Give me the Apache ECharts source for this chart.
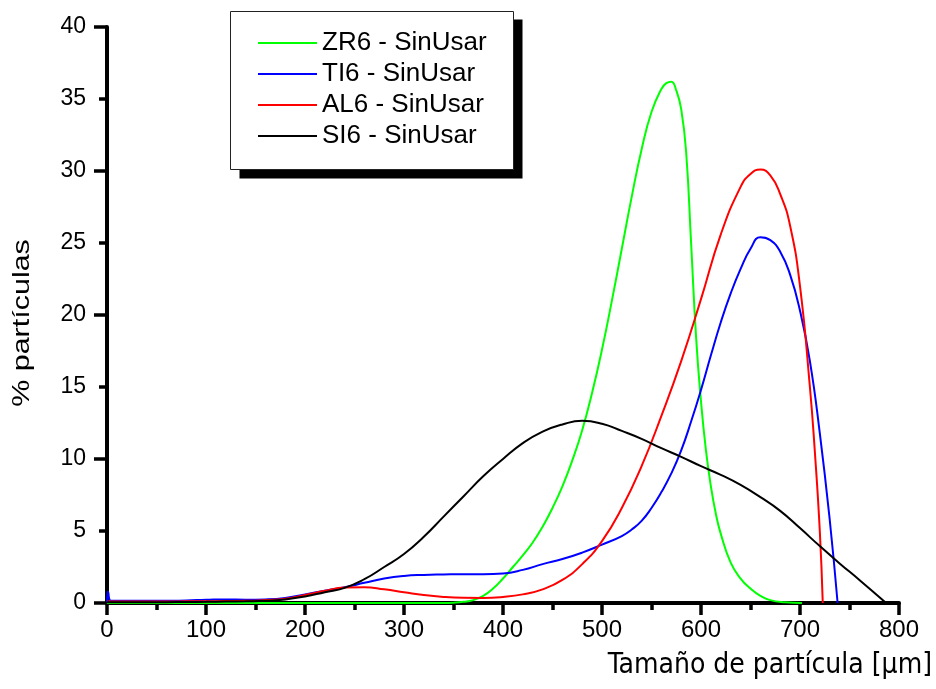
<!DOCTYPE html>
<html>
<head>
<meta charset="utf-8">
<script src="https://cdn.jsdelivr.net/npm/echarts@6/dist/echarts.min.js"></script>
<style>
  html, body { margin: 0; padding: 0; background: #fff; }
  #chart { width: 936px; height: 689px; }
</style>
</head>
<body>
<div id="chart"></div>
<script>
// Particle size distributions (% of particles vs size in µm)
const seriesNames = ['ZR6 - SinUsar', 'TI6 - SinUsar', 'AL6 - SinUsar', 'SI6 - SinUsar'];
const seriesColors = ['#00ff00', '#0000ff', '#ff0000', '#000000'];

const zr6X = [0, 50, 100, 150, 200, 250, 300, 340, 350, 360, 370, 380, 390, 400, 410, 420, 430, 440, 450, 460, 470, 480, 490, 500, 510, 520, 530, 540, 550, 560, 565, 570, 575, 580, 585, 590, 595, 600, 605, 610, 615, 620, 630, 640, 650, 660, 670, 685, 702];
const zr6Y = [0, 0, 0, 0, 0, 0, 0, 0, 0.02, 0.08, 0.2, 0.5, 1.0, 1.7, 2.5, 3.3, 4.2, 5.3, 6.6, 8.1, 9.9, 12.0, 14.6, 17.6, 21.0, 24.6, 28.2, 31.5, 34.1, 35.7, 36.1, 36.2, 35.6, 34.3, 31.3, 25.0, 18.5, 14.0, 10.6, 8.1, 6.2, 4.8, 2.8, 1.7, 1.0, 0.5, 0.2, 0.05, 0];

const ti6X = [0, 1, 4, 20, 40, 60, 80, 100, 120, 140, 160, 180, 200, 220, 240, 260, 280, 300, 320, 340, 360, 380, 400, 420, 440, 460, 480, 500, 520, 530, 540, 550, 560, 570, 580, 590, 600, 610, 620, 630, 640, 650, 660, 670, 680, 690, 700, 710, 720, 730, 738];
const ti6Y = [0.05, 0.8, 0.15, 0.15, 0.15, 0.16, 0.18, 0.22, 0.25, 0.23, 0.25, 0.35, 0.6, 0.85, 1.1, 1.4, 1.7, 1.88, 1.95, 1.98, 2.0, 2.0, 2.05, 2.3, 2.7, 3.05, 3.5, 4.05, 4.65, 5.1, 5.7, 6.6, 7.7, 9.0, 10.6, 12.6, 14.8, 17.2, 19.5, 21.5, 23.2, 24.6, 25.4, 25.2, 24.4, 22.8, 20.3, 16.8, 11.8, 5.8, 0];

const al6X = [0, 20, 40, 60, 80, 100, 120, 140, 160, 180, 200, 220, 240, 260, 280, 300, 320, 340, 360, 380, 400, 420, 440, 460, 480, 500, 520, 540, 560, 580, 600, 620, 640, 650, 660, 670, 680, 690, 700, 710, 715, 720, 723];
const al6Y = [0.1, 0.1, 0.1, 0.1, 0.12, 0.12, 0.14, 0.15, 0.2, 0.3, 0.55, 0.85, 1.08, 1.1, 0.95, 0.75, 0.55, 0.42, 0.36, 0.35, 0.42, 0.6, 0.95, 1.6, 2.7, 4.3, 6.6, 9.5, 13.0, 16.8, 21.1, 25.6, 28.9, 29.8, 30.1, 29.7, 28.4, 26.2, 22.0, 15.0, 10.5, 5.0, 0];

const si6X = [0, 20, 40, 60, 80, 100, 120, 140, 160, 180, 200, 220, 240, 260, 280, 300, 320, 340, 360, 380, 400, 420, 440, 460, 480, 500, 520, 540, 560, 580, 600, 620, 640, 660, 680, 700, 720, 740, 760, 787];
const si6Y = [0.05, 0.05, 0.05, 0.06, 0.07, 0.08, 0.1, 0.12, 0.15, 0.25, 0.45, 0.75, 1.05, 1.65, 2.5, 3.4, 4.6, 6.0, 7.4, 8.8, 10.0, 11.1, 11.9, 12.4, 12.65, 12.45, 11.95, 11.4, 10.75, 10.15, 9.5, 8.9, 8.2, 7.35, 6.4, 5.2, 3.95, 2.75, 1.6, 0];

const xTicks = { min: 0, max: 800, step: 100 };
const yTicks = { min: 0, max: 40, step: 5 };

const seriesX = [zr6X, ti6X, al6X, si6X];
const seriesY = [zr6Y, ti6Y, al6Y, si6Y];

const pairs = (xs, ys) => xs.map((x, i) => [x, ys[i]]);

const chart = echarts.init(document.getElementById('chart'), null, { renderer: 'canvas' });

const tickStyle = { color: '#000', width: 3.5 };

chart.setOption({
  animation: false,
  backgroundColor: '#ffffff',
  grid: { left: 107, right: 37, top: 27, bottom: 86, containLabel: false },
  xAxis: {
    type: 'value',
    min: xTicks.min, max: xTicks.max, interval: xTicks.step,
    axisLine: { show: true, onZero: false, lineStyle: { color: '#000', width: 4 } },
    axisTick: { show: true, inside: false, length: 12, lineStyle: tickStyle },
    minorTick: { show: true, splitNumber: 2, length: 7, lineStyle: tickStyle },
    splitLine: { show: false },
    axisLabel: { color: '#000', fontFamily: 'Liberation Sans, Arial, sans-serif', fontSize: 24, margin: 15 }
  },
  yAxis: [
    {
      type: 'value', position: 'left',
      min: yTicks.min, max: yTicks.max, interval: yTicks.step * 2,
      axisLine: { show: true, onZero: false, lineStyle: { color: '#000', width: 4 } },
      axisTick: { show: true, length: 13, lineStyle: tickStyle },
      minorTick: { show: true, splitNumber: 2, length: 8, lineStyle: tickStyle },
      splitLine: { show: false },
      axisLabel: { show: false }
    },
    {
      type: 'value', position: 'left',
      min: yTicks.min, max: yTicks.max, interval: yTicks.step,
      axisLine: { show: false },
      axisTick: { show: false },
      splitLine: { show: false },
      axisLabel: { color: '#000', fontFamily: 'Liberation Sans, Arial, sans-serif', fontSize: 23, margin: 21 }
    }
  ],
  legend: {
    orient: 'vertical',
    left: 258, top: 27.5,
    padding: 0,
    itemGap: 0,
    itemWidth: 59, itemHeight: 2,
    icon: 'rect',
    data: seriesNames,
    textStyle: { color: '#000', fontFamily: 'Liberation Sans, Arial, sans-serif', fontSize: 26, lineHeight: 31 },
    z: 10
  },
  graphic: [
    { type: 'rect', z: 5, shape: { x: 239.5, y: 19.5, width: 283, height: 159 }, style: { fill: '#000' }, silent: true },
    { type: 'rect', z: 6, shape: { x: 230.5, y: 11.5, width: 283, height: 158 }, style: { fill: '#fff', stroke: '#222', lineWidth: 1 }, silent: true },
    {
      type: 'text', z: 6, x: 22, y: 323, rotation: Math.PI / 2, scaleX: 1.27,
      style: { text: '% partículas', font: '24px "Liberation Sans", Arial, sans-serif', fill: '#000', align: 'center', verticalAlign: 'middle' }
    },
    {
      type: 'text', z: 6, x: 932, y: 666,
      style: { text: 'Tamaño de partícula [μm]', font: '28px "DejaVu Sans Condensed", "DejaVu Sans", sans-serif', fill: '#000', align: 'right', verticalAlign: 'middle' }
    }
  ],
  series: seriesNames.map((name, i) => ({
    name,
    type: 'line',
    xAxisIndex: 0, yAxisIndex: 0,
    data: pairs(seriesX[i], seriesY[i]),
    smooth: 0.5,
    symbol: 'none',
    showSymbol: false,
    color: seriesColors[i],
    lineStyle: { color: seriesColors[i], width: 2 },
    z: 3
  }))
});
</script>
</body>
</html>
